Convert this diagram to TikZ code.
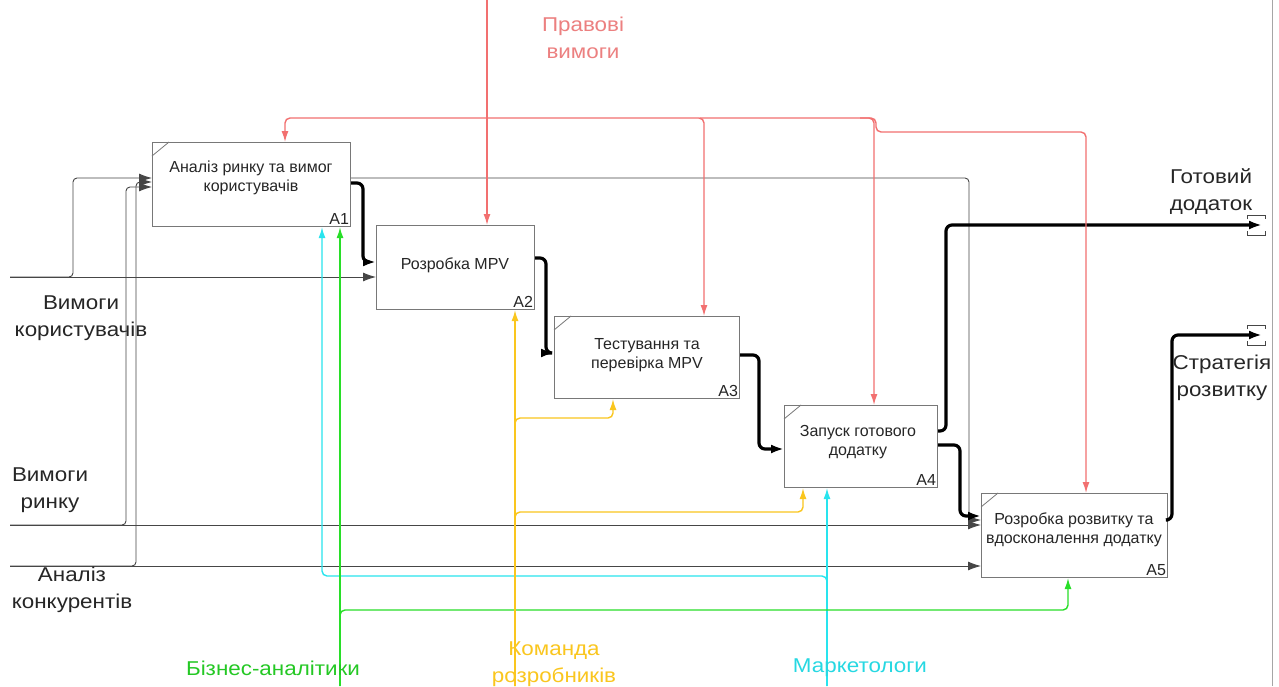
\documentclass[tikz,border=0pt]{standalone}
\usepackage{fontspec}
\setmainfont{Liberation Sans}
\newfontfamily\lblfont{Liberation Sans}[FakeStretch=1.12]
\usetikzlibrary{arrows.meta}
\definecolor{redc}{RGB}{242,112,112}
\definecolor{redt}{RGB}{236,128,128}
\definecolor{cyanc}{RGB}{40,228,238}
\definecolor{greenc}{RGB}{40,222,40}
\definecolor{orangec}{RGB}{250,198,30}
\definecolor{grayl}{RGB}{70,70,70}
\definecolor{boxc}{RGB}{120,120,120}
\begin{document}
\begin{tikzpicture}[x=1pt,y=-1pt,
  box/.style={draw=boxc, line width=1.1pt, anchor=north west, inner sep=0pt},
  btext/.style={align=center, font=\fontsize{16}{19.5}\selectfont, inner sep=0pt, text=black!85},
  num/.style={anchor=south east, font=\fontsize{16}{18}\selectfont, inner sep=2pt, text=black!85},
  lbl/.style={align=center, font=\lblfont\fontsize{20}{27}\selectfont, inner sep=0pt, text=black!85},
  thinln/.style={draw=grayl, line width=0.9pt, rounded corners=4pt},
  thickln/.style={draw=black, line width=3.2pt, rounded corners=6pt},
  redln/.style={draw=redc, line width=1.4pt, rounded corners=5pt},
  cyanln/.style={draw=cyanc, line width=1.4pt, rounded corners=5pt},
  greenln/.style={draw=greenc, line width=1.4pt, rounded corners=5pt},
  orangeln/.style={draw=orangec, line width=1.4pt, rounded corners=5pt},
  tip/.style={-{Latex[length=13pt,width=9pt]}},
  ctip/.style={-{Latex[length=11pt,width=7pt]}},
  corner/.style={draw=boxc, line width=0.8pt},
  tunnel/.style={draw=grayl, line width=0.7pt}
]
\useasboundingbox (0,0) rectangle (1279,686);
\fill[white] (0,0) rectangle (1279,686);

% right page border
\draw[black!35, line width=1pt] (1272,0) -- (1272,686);

% boxes
\node[box, minimum width=198pt, minimum height=84pt] (A1) at (152,142) {};
\node[box, minimum width=158pt, minimum height=84pt] (A2) at (376,225) {};
\node[box, minimum width=185pt, minimum height=82pt] (A3) at (554,316) {};
\node[box, minimum width=153pt, minimum height=82pt] (A4) at (784,405) {};
\node[box, minimum width=186pt, minimum height=84pt] (A5) at (981,493) {};

\node[btext] (T1) at (251,178) {Аналіз ринку та вимог\\користувачів};
\node[btext] (T2) at (455,265) {Розробка MPV};
\node[btext] (T3) at (647,355) {Тестування та\\перевірка MPV};
\node[btext] (T4) at (858,442) {Запуск готового\\додатку};
\node[btext] (T5) at (1074,530) {Розробка розвитку та\\вдосконалення додатку};

\node[num] (N1) at (A1.south east) {A1};
\node[num] (N2) at (A2.south east) {A2};
\node[num] (N3) at (A3.south east) {A3};
\node[num] (N4) at (A4.south east) {A4};
\node[num] (N5) at (A5.south east) {A5};

\draw[corner] ([yshift=-14pt]A1.north west) -- ([xshift=17pt]A1.north west);
\draw[corner] ([yshift=-14pt]A3.north west) -- ([xshift=17pt]A3.north west);
\draw[corner] ([yshift=-14pt]A4.north west) -- ([xshift=17pt]A4.north west);
\draw[corner] ([yshift=-14pt]A5.north west) -- ([xshift=17pt]A5.north west);

% free ends
\coordinate (inU) at (10,277);
\coordinate (inM) at (10,525);
\coordinate (inC) at (10,566);
\coordinate (ctl) at (487,0);
\coordinate (mG) at (340,686);
\coordinate (mO) at (515,686);
\coordinate (mC) at (827,686);
\coordinate (outG) at (1262,225);
\coordinate (outS) at (1262,335);

% inputs
\draw[thinln,tip] (inU) -- (A2.west |- 0,277);
\draw[thinln,tip] (inU) -- (73,277) -- (73,178) -- (A1.west |- 0,178);
\draw[thinln,tip] (inM) -- (A5.west |- 0,525);
\draw[thinln,tip] (inM) -- (126,525) -- (126,187) -- (A1.west |- 0,187);
\draw[thinln,tip] (inC) -- (A5.west |- 0,566);
\draw[thinln,tip] (inC) -- (136,566) -- (136,182) -- (A1.west |- 0,182);

% A1 -> A5 thin
\draw[thinln,tip] (A1.east |- 0,178) -- (969,178) -- (969,520) -- (A5.west |- 0,520);

% thick flows
\draw[thickln,tip] (A1.east |- 0,183) -- (363,183) -- (363,262) -- (A2.west |- 0,262);
\draw[thickln,tip] (A2.east |- 0,258) -- (546,258) -- (546,353) -- (A3.west |- 0,353);
\draw[thickln,tip] (A3.east |- 0,355) -- (759,355) -- (759,449) -- (A4.west |- 0,449);
\draw[thickln,tip] (A4.east |- 0,445) -- (960,445) -- (960,516) -- (A5.west |- 0,516);
\draw[thickln,tip] (A4.east |- 0,431) -- (946,431) -- (946,225) -- (outG);
\draw[thickln,tip] (A5.east |- 0,520) -- (1172,520) -- (1172,335) -- (outS);

% tunnel brackets
\foreach \o in {outG,outS}{
  \draw[tunnel] ([shift={(-15,-6)}]\o) -- ([shift={(-15,-10)}]\o) -- ([shift={(3,-10)}]\o) -- ([shift={(3,-6)}]\o);
  \draw[tunnel] ([shift={(-15,6)}]\o) -- ([shift={(-15,10)}]\o) -- ([shift={(3,10)}]\o) -- ([shift={(3,6)}]\o);
}

% controls
\draw[redln,ctip] (ctl) -- (ctl |- A2.north);
\draw[redln,ctip] (487,118) -- (285,118) -- (285,118 |- A1.north);
\draw[redln,ctip] (487,118) -- (704,118) -- (704,118 |- A3.north);
\draw[redln,ctip] (700,118) -- (874,118) -- (874,118 |- A4.north);
\draw[redln,ctip] (860,118) -- (876,118) -- (876,132) -- (1086,132) -- (1086,132 |- A5.north);

% mechanisms
\draw[cyanln,ctip] (mC) -- (mC |- A4.south);
\draw[cyanln,ctip] (mC) -- (827,576) -- (322,576) -- (322,576 |- A1.south);
\draw[greenln,ctip] (mG) -- (mG |- A1.south);
\draw[greenln,ctip] (mG) -- (340,610) -- (1068,610) -- (1068,610 |- A5.south);
\draw[orangeln,ctip] (mO) -- (mO |- A2.south);
\draw[orangeln,ctip] (mO) -- (515,418) -- (613,418) -- (613,418 |- A3.south);
\draw[orangeln,ctip] (mO) -- (515,512) -- (803,512) -- (803,512 |- A4.south);

% labels
\node[lbl, text=redt] (Lctl) at (583,38) {Правові\\вимоги};
\node[lbl] (LU) at (81,318) {Вимоги\\користувачів};
\node[lbl] (LM) at (50,490) {Вимоги\\ринку};
\node[lbl] (LC) at (72,590) {Аналіз\\конкурентів};
\node[lbl] (LG) at (1211,192) {Готовий\\додаток};
\node[lbl] (LS) at (1222,378) {Стратегія\\розвитку};
\node[lbl, text=greenc!90!black] (LBA) at (273,668) {Бізнес-аналітики};
\node[lbl, text=orangec] (LKR) at (554,664) {Команда\\розробників};
\node[lbl, text=cyanc!95!black] (LMK) at (860,668) {Маркетологи};
\end{tikzpicture}
\end{document}
